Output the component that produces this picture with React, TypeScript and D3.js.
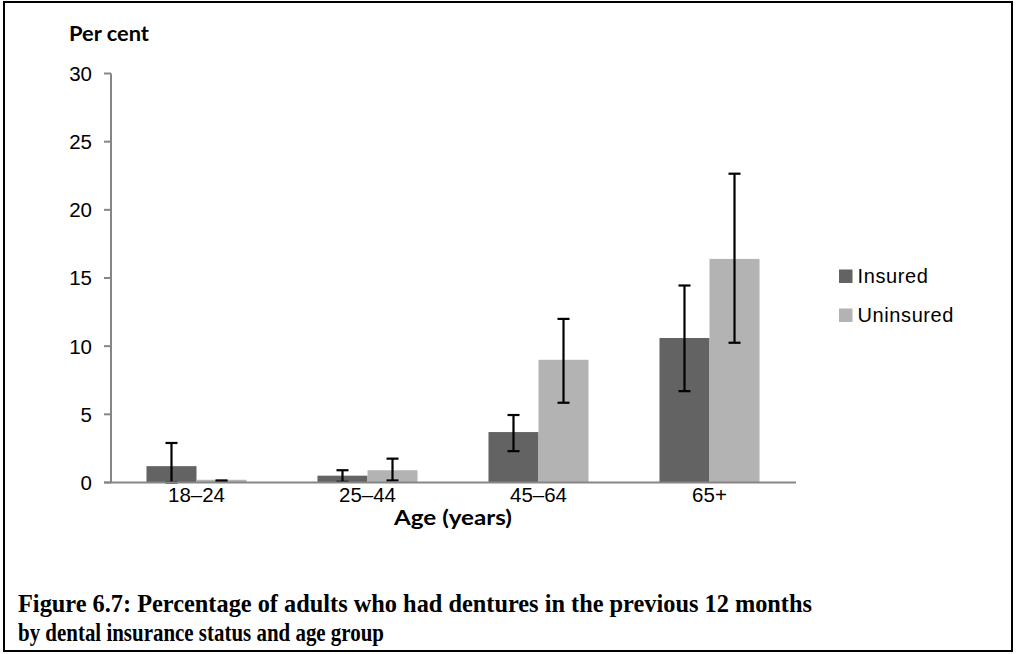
import React from "react";
import * as d3 from "d3";

const categories = ["18–24", "25–44", "45–64", "65+"];
const seriesNames = ["Insured", "Uninsured"];
const insured = [1.2, 0.5, 3.7, 10.6];
const insuredLow = [0, 0.05, 2.3, 6.7];
const insuredHigh = [2.9, 0.9, 4.95, 14.45];
const uninsured = [0.2, 0.9, 9.0, 16.4];
const uninsuredLow = [0.05, 0.15, 5.85, 10.25];
const uninsuredHigh = [0.15, 1.75, 12.0, 22.65];
const yTicks = [0, 5, 10, 15, 20, 25, 30];
const colors = ["#636363", "#b3b3b3"];

const W = 1020;
const H = 654;

export default function App() {
  const x = d3.scaleBand<string>().domain(categories).range([111, 795]).paddingInner(0.415).paddingOuter(0.2075);
  const xs = d3.scaleBand<string>().domain(seriesNames).range([0, x.bandwidth()]);
  const y = d3.scaleLinear().domain([0, 30]).range([482.5, 73.5]);

  const series = [
    { name: "Insured", vals: insured, lo: insuredLow, hi: insuredHigh },
    { name: "Uninsured", vals: uninsured, lo: uninsuredLow, hi: uninsuredHigh },
  ];
  const sans = "'Liberation Sans', Arial, sans-serif";
  const bold = "Lato, 'Open Sans', sans-serif";
  const serif = "'Liberation Serif', 'DejaVu Serif', serif";
  const axisColor = "#868686";

  return (
    <div style={{ position: "absolute", left: 0, top: 0 }}>
      <svg width={W} height={H} style={{ display: "block" }}>
        <rect x={0} y={0} width={W} height={H} fill="#fff" />
        <rect x={4} y={2} width={1008} height={649} fill="none" stroke="#000" strokeWidth={2} />
        <text x={69} y={40.5} fontFamily={bold} fontWeight="bold" fontSize={21} fill="#000" textLength={80} lengthAdjust="spacingAndGlyphs">
          Per cent
        </text>
        {series.map((s, si) => (
          <g key={s.name}>
            {categories.map((c, i) => (
              <rect
                key={c}
                x={(x(c) as number) + (xs(s.name) as number)}
                y={y(s.vals[i])}
                width={xs.bandwidth()}
                height={y(0) - y(s.vals[i])}
                fill={colors[si]}
              />
            ))}
          </g>
        ))}
        {series.map((s) => (
          <g key={s.name + "err"} stroke="#000" strokeWidth={2.2}>
            {categories.map((c, i) => {
              const cx = (x(c) as number) + (xs(s.name) as number) + xs.bandwidth() / 2;
              return (
                <g key={c}>
                  <line x1={cx} x2={cx} y1={y(s.lo[i])} y2={y(s.hi[i])} />
                  <line x1={cx - 6} x2={cx + 6} y1={y(s.hi[i])} y2={y(s.hi[i])} />
                  <line x1={cx - 6} x2={cx + 6} y1={y(s.lo[i])} y2={y(s.lo[i])} />
                </g>
              );
            })}
          </g>
        ))}
        {/* y axis */}
        <line x1={111} x2={111} y1={y(30)} y2={y(0)} stroke={axisColor} strokeWidth={2} />
        {yTicks.map((t) => (
          <g key={t}>
            <line x1={104} x2={111} y1={y(t)} y2={y(t)} stroke={axisColor} strokeWidth={2} />
            <text x={92} y={y(t)} dy="0.36em" textAnchor="end" fontFamily={sans} fontSize={20.5} fill="#000">
              {t}
            </text>
          </g>
        ))}
        {/* x axis */}
        <line x1={104} x2={796} y1={y(0)} y2={y(0)} stroke={axisColor} strokeWidth={2} />
        {categories.map((c) => (
          <text
            key={c}
            x={(x(c) as number) + x.bandwidth() / 2}
            y={502}
            textAnchor="middle"
            fontFamily={sans}
            fontSize={20.5}
            fill="#000"
          >
            {c}
          </text>
        ))}
        <text x={453} y={525} textAnchor="middle" fontFamily={bold} fontWeight="bold" fontSize={20} fill="#000" textLength={118} lengthAdjust="spacingAndGlyphs">
          Age (years)
        </text>
        {/* legend */}
        {seriesNames.map((n, i) => (
          <g key={n} transform={`translate(839, ${269.5 + i * 39})`}>
            <rect x={0} y={0} width={13.5} height={13.5} fill={colors[i]} />
            <text x={18.5} y={13.3} fontFamily={sans} fontSize={20} letterSpacing={0.6} fill="#000">
              {n}
            </text>
          </g>
        ))}
        {/* caption */}
        <text x={18} y={612} fontFamily={serif} fontWeight="bold" fontSize={26} fill="#000" textLength={794} lengthAdjust="spacingAndGlyphs">
          Figure 6.7: Percentage of adults who had dentures in the previous 12 months
        </text>
        <text x={18} y={641} fontFamily={serif} fontWeight="bold" fontSize={26} fill="#000" textLength={366} lengthAdjust="spacingAndGlyphs">
          by dental insurance status and age group
        </text>
      </svg>
    </div>
  );
}
